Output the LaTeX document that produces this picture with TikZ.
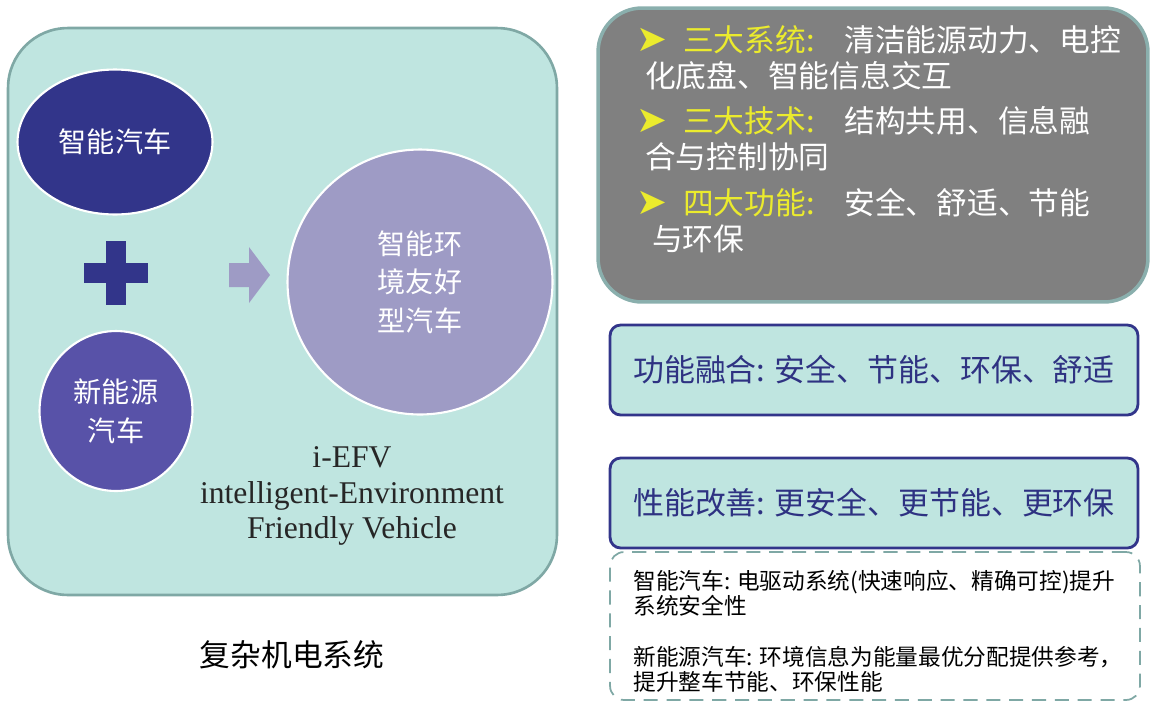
\documentclass[tikz,border=0pt]{standalone}
\usepackage{fontspec}
\setmainfont{Liberation Serif}
\newfontfamily\cjk{Noto Sans CJK SC}
\newfontfamily\dingfont{DejaVu Sans}
\usetikzlibrary{shapes.geometric,positioning}
\definecolor{panelfill}{RGB}{191,229,224}
\definecolor{panelline}{RGB}{127,168,165}
\definecolor{navy}{RGB}{50,53,138}
\definecolor{violet}{RGB}{88,82,168}
\definecolor{lilac}{RGB}{158,155,197}
\definecolor{slate}{RGB}{128,128,128}
\definecolor{slateline}{RGB}{138,175,173}
\definecolor{hilite}{RGB}{235,235,45}
\definecolor{boxtext}{RGB}{46,50,130}
\tikzset{
  panel/.style={draw=panelline,fill=panelfill,line width=1.5pt,rounded corners=34pt},
  blob/.style={ellipse,draw=white,line width=1.2pt,text=white,align=center,inner sep=0pt,
    font=\cjk\fontsize{16}{22}\selectfont},
  featbox/.style={draw=navy,line width=1.6pt,fill=panelfill,rounded corners=6pt,
    minimum width=10.56cm,minimum height=1.8cm,text=boxtext,font=\cjk\fontsize{17.6}{21}\selectfont},
  item/.style={anchor=north west,align=left,text=white,inner sep=0pt,
    font=\cjk\fontsize{17.5}{20.4}\selectfont},
  note/.style={anchor=north west,align=left,inner sep=0pt,font=\cjk\fontsize{12.9}{14.2}\selectfont}
}
\newcommand{\bul}{{\dingfont\bfseries\fontsize{21}{14}\selectfont\textcolor{hilite}{➤}}}
\newcommand{\tag}[1]{\textcolor{hilite}{#1}}

\begin{document}
\begin{tikzpicture}[x=0.02cm,y=-0.02cm]
\useasboundingbox (0,0) rectangle (1152,707);
\node[panel,minimum width=10.98cm,minimum height=11.34cm] (sys) at (282.5,311.5) {};
\node[blob,fill=navy,minimum width=3.9cm,minimum height=2.9cm] (smart) at (115,142) {智能汽车};
\node[blob,fill=violet,minimum width=3.06cm,minimum height=3.2cm] (nev) at (116,411) {新能源\\汽车};
\node[blob,fill=lilac,minimum width=5.3cm,minimum height=5.3cm] (iefv) at (420,282) {智能环\\境友好\\型汽车};
\fill[navy] (84,263) rectangle (148,283);
\fill[navy] (106,241) rectangle (126,305);
\fill[lilac] (229,263) -- (249,263) -- (249,247) -- (270,275) -- (249,303) -- (249,287) -- (229,287) -- cycle;
\node[align=center,text=black!85,font=\fontsize{18}{20.4}\selectfont] (name) at (352,496)
  {i-EFV\\intelligent-Environment\\Friendly Vehicle};
\node[font=\cjk\fontsize{17.5}{21}\selectfont] (cap) at (292,655) {复杂机电系统};

\node[draw=slateline,fill=slate,line width=2pt,rounded corners=25pt,
  minimum width=11cm,minimum height=5.88cm] (sum) at (873,155) {};
\node[item] (sys3) at (636,25)
  {\bul\hspace{9pt}\tag{三大系统:}\hspace{17pt}清洁能源动力、电控\\\hspace*{5pt}化底盘、智能信息交互};
\node[item] (tech3) at (636,106)
  {\bul\hspace{9pt}\tag{三大技术:}\hspace{17pt}结构共用、信息融\\\hspace*{5pt}合与控制协同};
\node[item] (func4) at (636,188)
  {\bul\hspace{9pt}\tag{四大功能:}\hspace{17pt}安全、舒适、节能\\\hspace*{9pt}与环保};

\node[featbox] (fuse) at (874,370) {功能融合: 安全、节能、环保、舒适};
\node[featbox] (gain) at (874,503) {性能改善: 更安全、更节能、更环保};

\node[draw=panelline,dashed,dash pattern=on 8pt off 5pt,line width=1pt,rounded corners=8pt,
  minimum width=10.6cm,minimum height=2.96cm] (detail) at (875,626) {};
\node[note] (n1) at (633,570) {智能汽车: 电驱动系统(快速响应、精确可控)提升\\系统安全性};
\node[note] (n2) at (633,646) {新能源汽车: 环境信息为能量最优分配提供参考，\\提升整车节能、环保性能};
\end{tikzpicture}
\end{document}
